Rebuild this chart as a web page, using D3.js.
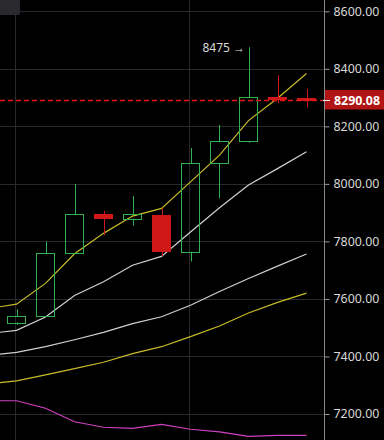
<!DOCTYPE html>
<html><head><meta charset="utf-8">
<script src="https://cdn.jsdelivr.net/npm/d3@7/dist/d3.min.js"></script>
<style>html,body{margin:0;padding:0;background:#000;overflow:hidden}svg{display:block}</style>
</head><body>
<svg id="c" width="384" height="440"></svg>
<script>
// ---- data ----
const candleIdx = [0,1,2,3,4,5,6,7,8,9,10];
const open  = [7518,7540,7759,7895,7879,7892,7764,8072,8148,8302,8298];
const high  = [7564,7799,8000,7906,7958,7917,8125,8205,8475,8378,8330];
const low   = [7510,7538,7758,7822,7855,7749,7730,7950,8143,8280,8265];
const close = [7540,7759,7895,7879,7895,7764,8072,8148,8301,8295,8290.08];
const maIdx = [-1,0,1,2,3,4,5,6,7,8,9,10];
const maYellowShort = [7566,7582,7654,7757,7828,7888,7915,8007,8100,8220,8298,8384];
const maWhiteShort  = [7479,7491,7537,7612,7660,7717,7748,7833,7917,7996,8053,8112];
const maWhiteLong   = [7404,7414,7434,7458,7484,7514,7538,7578,7626,7671,7714,7756];
const maYellowLong  = [7304,7315,7336,7358,7380,7410,7434,7469,7506,7551,7588,7620];
const maPink        = [7246,7246,7220,7173,7154,7150,7164,7147,7138,7122,7126,7126];
const yTicks = [7200,7400,7600,7800,8000,8200,8400,8600];
const vGridIdx = [0,6];
const lastPrice = 8290.08;
const peakLabel = "8475 →";
const peakIdx = 8, peakValue = 8475;

// ---- drawing ----
const W = 384, H = 440, plotR = 325;
const svg = d3.select("#c");
const x = d3.scaleLinear().domain([0,10]).range([16.5,306.5]);
const y = d3.scaleLinear().domain([7200,8600]).range([414,11.3]);
const bw = 18.5;
const green = "#2fb350", red = "#d01818";

svg.append("rect").attr("width",W).attr("height",H).attr("fill","#000");
svg.append("defs").append("clipPath").attr("id","pc")
  .append("rect").attr("x",0).attr("y",0).attr("width",plotR).attr("height",H);

const grid = svg.append("g");
grid.selectAll("line.h").data(yTicks).join("line")
  .attr("x1",0).attr("x2",plotR)
  .attr("y1",d=>Math.round(y(d))+0.5).attr("y2",d=>Math.round(y(d))+0.5)
  .attr("stroke","#2a2a2a").attr("stroke-width",1);
grid.selectAll("line.v").data(vGridIdx).join("line")
  .attr("x1",d=>Math.floor(x(d))-0.5).attr("x2",d=>Math.floor(x(d))-0.5)
  .attr("y1",0).attr("y2",H)
  .attr("stroke","#2a2a2a").attr("stroke-width",1);

// top-left box
svg.append("path").attr("d","M0,0H20V13Q20,15 18,15H0Z").attr("fill","#2a2a2e");

const plot = svg.append("g").attr("clip-path","url(#pc)");

// MA lines
const line = d3.line().x((d,i)=>x(maIdx[i])).y(d=>y(d));
[[maPink,"#d040c0"],[maYellowLong,"#c8bc28"],[maWhiteLong,"#d0d0d0"],[maWhiteShort,"#d0d0d0"],[maYellowShort,"#c8bc28"]]
.forEach(([arr,col])=>{
  plot.append("path").attr("d",line(arr)).attr("fill","none")
    .attr("stroke",col).attr("stroke-width",1.2);
});

// candles
const cg = plot.append("g");
candleIdx.forEach((ci,i)=>{
  const o=open[i], c=close[i], up=c>=o;
  const cx = Math.round(x(ci))+0.5;
  const top = y(Math.max(o,c)), bot = y(Math.min(o,c));
  const col = up?green:red;
  if(up){
    cg.append("line").attr("x1",cx).attr("x2",cx).attr("y1",y(high[i])).attr("y2",top).attr("stroke",col);
    cg.append("line").attr("x1",cx).attr("x2",cx).attr("y1",bot).attr("y2",y(low[i])).attr("stroke",col);
    cg.append("rect").attr("x",Math.round(x(ci)-bw/2)+0.5).attr("y",Math.round(top)+0.5)
      .attr("width",Math.round(bw)-1).attr("height",Math.max(1,Math.round(bot)-Math.round(top)))
      .attr("fill","none").attr("stroke",col);
  } else {
    cg.append("line").attr("x1",cx).attr("x2",cx).attr("y1",y(high[i])).attr("y2",y(low[i])).attr("stroke",col);
    cg.append("rect").attr("x",Math.round(x(ci)-bw/2)).attr("y",Math.round(top))
      .attr("width",Math.round(bw)).attr("height",Math.max(3,Math.round(bot)-Math.round(top)))
      .attr("fill",col);
  }
});

// last price dashed line
const py = Math.round(y(lastPrice))+0.5;
svg.append("line").attr("x1",0).attr("x2",plotR).attr("y1",py).attr("y2",py)
  .attr("stroke","#e01818").attr("stroke-width",1.3).attr("stroke-dasharray","5,3");

// peak annotation
svg.append("text").attr("x",x(peakIdx)-3.5).attr("y",y(peakValue)+4.5)
  .attr("text-anchor","end").attr("fill","#d8d8d8")
  .style("font-family","'Noto Sans', sans-serif").style("font-size","12px").text(peakLabel);

// right axis
const ax = svg.append("g").attr("transform",`translate(${plotR-0.5},0)`);
ax.append("line").attr("x1",0).attr("x2",0).attr("y1",0).attr("y2",H).attr("stroke","#888");
const yAxis = d3.axisRight(y).tickValues(yTicks).tickFormat(d3.format(".2f")).tickSize(5).tickPadding(4);
const axg = svg.append("g").attr("transform",`translate(${plotR-0.5},0)`).call(yAxis);
axg.select(".domain").remove();
axg.selectAll(".tick line").attr("stroke","#999");
axg.selectAll(".tick text").attr("fill","#d8d8d8")
  .style("font-family","'Noto Sans', sans-serif").style("font-size","12.4px");

// last price label
svg.append("rect").attr("x",plotR).attr("y",py-10.5).attr("width",W-plotR).attr("height",19.5).attr("fill","#b01414");
svg.append("line").attr("x1",plotR-2).attr("x2",plotR+5).attr("y1",py).attr("y2",py).attr("stroke","#fff");
svg.append("text").attr("x",plotR+9).attr("y",py+4.5).attr("fill","#fff")
  .style("font-family","'Noto Sans', sans-serif").style("font-size","12.4px").style("font-weight","bold")
  .text(d3.format(".2f")(lastPrice));
</script>
</body></html>
